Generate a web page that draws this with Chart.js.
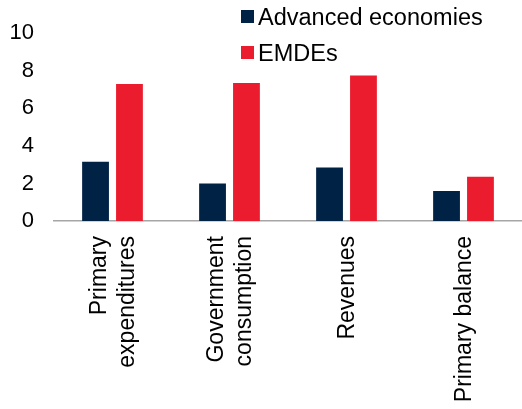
<!DOCTYPE html>
<html>
<head>
<meta charset="utf-8">
<script src="https://cdn.jsdelivr.net/npm/chart.js@4.4.1/dist/chart.umd.min.js"></script>
<style>
  body { margin: 0; background: #fff; font-family: "Liberation Sans", Arial, sans-serif; }
  #wrap { position: relative; width: 522px; height: 409px; }
  .leg { position: absolute; left: 241px; font-size: 23.5px; color: #000; line-height: 1; }
  .leg span { display: inline-block; width: 13px; height: 13px; margin-right: 4px; vertical-align: 2px; }
</style>
</head>
<body>
<div id="wrap">
  <canvas id="chart" width="522" height="409"></canvas>
  <div class="leg" style="top:6px"><span style="background:#002244"></span>Advanced economies</div>
  <div class="leg" style="top:42px"><span style="background:#EB1C2D"></span>EMDEs</div>
</div>
<script>
const categories = [
  ['Primary', 'expenditures'],
  ['Government', 'consumption'],
  ['Revenues'],
  ['Primary balance']
]
const advanced = [3.15, 2.0, 2.85, 1.6]
const emdes = [7.3, 7.35, 7.75, 2.35]
const yTicks = [0, 2, 4, 6, 8, 10]

// rotated category labels, multi-line blocks centred on the tick
const xLabels = {
  id: 'xLabels',
  afterDraw(chart) {
    const scale = chart.scales.x
    const c = chart.ctx
    const lh = 27.5
    c.save()
    c.font = '23px "Liberation Sans", Arial, sans-serif'
    c.fillStyle = '#000'
    c.textAlign = 'right'
    c.textBaseline = 'middle'
    categories.forEach((lines, i) => {
      const x = scale.getPixelForTick(i) + 1
      c.save()
      c.translate(x, scale.top + 15)
      c.rotate(-Math.PI / 2)
      lines.forEach((t, j) => {
        c.fillText(t, 0, (j - (lines.length - 1) / 2) * lh)
      })
      c.restore()
    })
    c.restore()
  }
}

const ctx = document.getElementById('chart').getContext('2d')
const myChart = new Chart(ctx, {
  type: 'bar',
  data: {
    labels: categories,
    datasets: [{
      label: 'Advanced economies',
      data: advanced,
      backgroundColor: '#002244'
    }, {
      label: 'EMDEs',
      data: emdes,
      backgroundColor: '#EB1C2D'
    }]
  },
  options: {
    responsive: false,
    animation: false,
    layout: { padding: { top: 33, right: 0, left: 0, bottom: 0 } },
    datasets: { bar: { categoryPercentage: 0.58, barPercentage: 0.79 } },
    plugins: { legend: { display: false }, tooltip: { enabled: false } },
    scales: {
      x: {
        grid: { display: false, drawTicks: false },
        border: { display: true, color: '#A6A6A6', width: 1.5 },
        ticks: { display: false },
        afterFit: s => { s.height = 188 }
      },
      y: {
        min: 0, max: 10,
        afterBuildTicks: s => { s.ticks = yTicks.map(v => ({ value: v })) },
        grid: { display: false, drawTicks: false },
        border: { display: false },
        ticks: {
          padding: 20, color: '#000',
          font: { family: 'Liberation Sans', size: 22 }
        },
        afterFit: s => { s.width = 54 }
      }
    }
  },
  plugins: [xLabels]
})
</script>
</body>
</html>
